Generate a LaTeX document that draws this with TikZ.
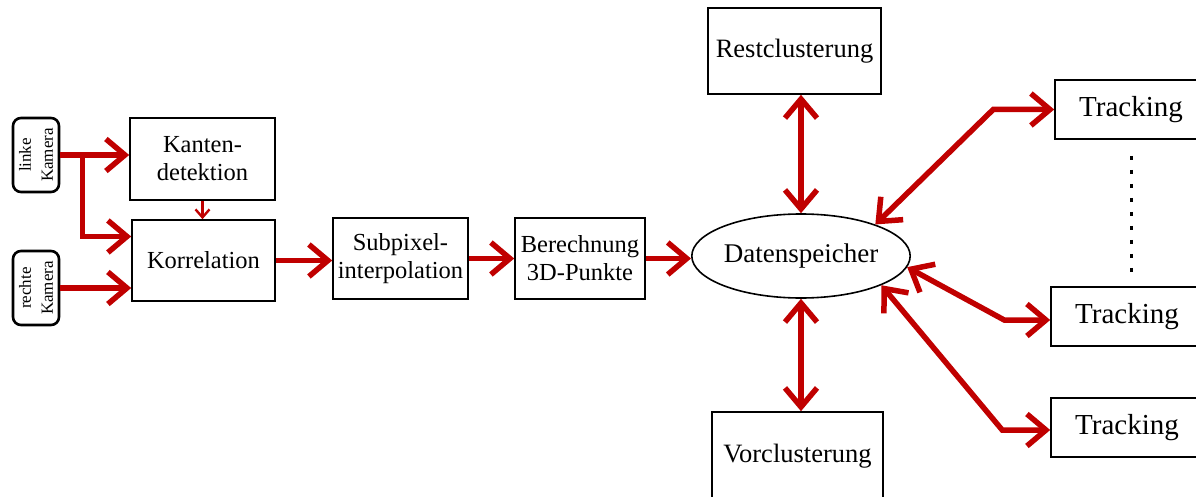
\documentclass[tikz,border=0pt]{standalone}
\usepackage{fontspec}
\setmainfont{Liberation Serif}
\usetikzlibrary{arrows.meta, positioning, calc, shapes.geometric}
\definecolor{flowred}{RGB}{192,0,0}
\tikzset{
  blk/.style={rectangle, draw, line width=1.6pt, inner sep=0pt,
              align=center, font=\fontsize{24.5}{28}\selectfont},
  cam/.style={rectangle, draw, line width=2.6pt, rounded corners=8pt,
              inner sep=0pt, align=center, rotate=90,
              minimum width=74pt, minimum height=46pt,
              font=\fontsize{17}{22}\selectfont},
  store/.style={ellipse, draw, line width=1.6pt, inner sep=0pt,
                minimum width=217pt, minimum height=84pt,
                font=\fontsize{27}{30}\selectfont},
  trk/.style={blk, font=\fontsize{29}{32}\selectfont,
              minimum width=152pt, minimum height=59pt},
  clu/.style={blk, font=\fontsize{26.5}{30}\selectfont},
  arr/.style={flowred, line width=5.5pt,
              -{Straight Barb[length=19pt, width=32pt]}},
  biarr/.style={flowred, line width=5.5pt,
                {Straight Barb[length=19pt, width=32pt]}-{Straight Barb[length=19pt, width=32pt]}},
  thinarr/.style={flowred, line width=2.4pt,
                  -{Straight Barb[length=8pt, width=14pt]}},
  dots/.style={line width=3pt, dash pattern=on 4pt off 10pt}
}

\begin{document}
\begin{tikzpicture}[x=1pt, y=-1pt]
  \useasboundingbox (0,0) rectangle (1196,497);

  % cameras
  \node[cam] (lk) at (36,155) {linke\\Kamera};
  \node[cam] (rk) at (36,288) {rechte\\Kamera};

  % processing chain
  \node[blk, minimum width=145pt, minimum height=82pt] (kd) at (202.5,159) {Kanten-\\detektion};
  \node[blk, minimum width=143pt, minimum height=81pt] (kr) at (203.5,260.5) {Korrelation};
  \node[blk, minimum width=135pt, minimum height=81pt] (sp) at (400.5,258.5) {Subpixel-\\interpolation};
  \node[blk, minimum width=130pt, minimum height=81pt] (bp) at (580,258.5) {Berechnung\\3D-Punkte};
  \node[store] (ds) at (801,256) {Datenspeicher};

  % clustering and tracking
  \node[clu, minimum width=173pt, minimum height=86pt] (rc) at (794.5,51) {Restclusterung};
  \node[clu, minimum width=171pt, minimum height=88pt] (vc) at (797.5,456) {Vorclusterung};
  \node[trk] (tr1) at (1131,109.5) {Tracking};
  \node[trk] (tr2) at (1127,316.5) {Tracking};
  \node[trk] (tr3) at (1127,427.5) {Tracking};

  \coordinate (br) at ($(lk.south)+(22,0)$);
  \draw[arr] (lk.south) -- (lk.south -| kd.west);
  \draw[arr] (br) |- ([yshift=24pt]kr.west);
  \draw[arr] (rk.south) -- (rk.south -| kr.west);
  \draw[thinarr] (kd.south) -- (kd.south |- kr.north);
  \draw[arr] (kr.east) -- (kr.east -| sp.west);
  \draw[arr] (sp.east) -- (bp.west);
  \draw[arr] (bp.east) -- (bp.east -| ds.west);

  \draw[biarr] (ds.north) -- (ds.north |- rc.south);
  \draw[biarr] (ds.south) -- (ds.south |- vc.north);
  \draw[biarr] (ds.23) -- ($(tr1.west)+(-61,0)$) -- (tr1.west);
  \draw[biarr] (ds.-6) -- ($(tr2.west)+(-46,3.5)$) -- ([yshift=-3.5pt]tr2.west);
  \draw[biarr] (ds.-20) -- ($(tr3.west)+(-48,2.5)$) -- ([yshift=-2.5pt]tr3.west);

  \draw[dots] ([yshift=-16pt]tr1.south) -- ([yshift=9pt]tr1.south |- tr2.north);
\end{tikzpicture}
\end{document}
